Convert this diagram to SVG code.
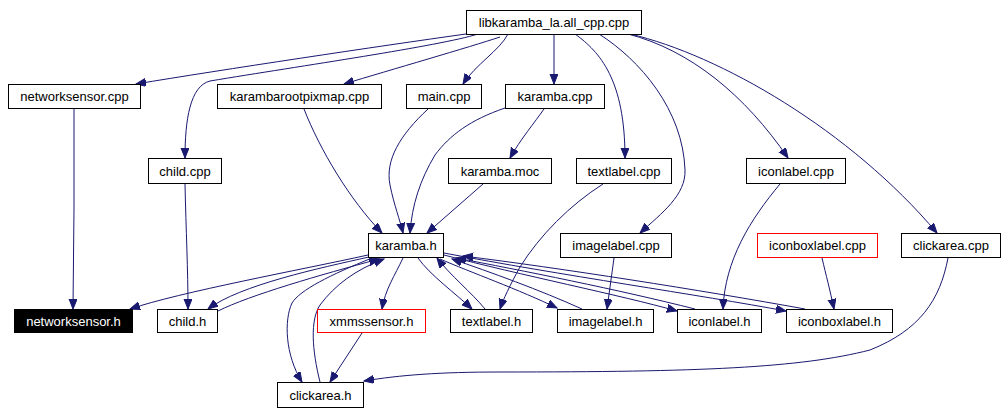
<svg xmlns="http://www.w3.org/2000/svg" width="1007" height="415" viewBox="0 0 1007 415">
<style>
.n rect{fill:#fff;stroke:#000;stroke-width:1}
.n.red rect{stroke:#f00}
.n.blk rect{fill:#000}
.n text{font-family:"Liberation Sans",Arial,sans-serif;font-size:13px;text-anchor:middle;fill:#000}
.n.blk text{fill:#fff}
#edges path{fill:none;stroke:#191970;stroke-width:1;marker-end:url(#ah)}
</style>
<defs>
<marker id="ah" markerUnits="userSpaceOnUse" markerWidth="11" markerHeight="9" refX="10" refY="4" orient="auto">
<path d="M0,0 L10,4 L0,8 z" fill="#191970" stroke="#191970" stroke-width="1"/>
</marker>
</defs>
<rect width="1007" height="415" fill="#fff"/>
<g id="edges">
<path d="M466,34 C380,46 220,70 136,84"/>
<path d="M478,34 C440,46 300,66 210,81 C190,86 185,120 185,158"/>
<path d="M500,37 C470,47 390,70 344,84"/>
<path d="M508,34 C500,50 475,65 463,84"/>
<path d="M554,34 L554,84"/>
<path d="M575,34 C600,52 625,80 625,158"/>
<path d="M599,34 C640,60 683,110 685,170 C686,195 662,213 640,233"/>
<path d="M628,34 C690,50 745,95 788,158"/>
<path d="M630,34 C720,55 850,130 937,233"/>
<path d="M74,109 L74,208 L73,309"/>
<path d="M185,184 C186,230 188,270 188,309"/>
<path d="M304,109 C320,150 350,200 382,233"/>
<path d="M428,109 C400,135 385,160 390,185 C394,205 400,220 403,233"/>
<path d="M505,108 C470,120 450,135 435,155 C420,180 412,205 410,233"/>
<path d="M544,109 C535,122 520,140 510,158"/>
<path d="M483,184 L427,233"/>
<path d="M603,184 C570,205 540,235 520,267 C510,285 503,300 500,309"/>
<path d="M614,258 L607,309"/>
<path d="M780,184 C750,220 725,260 723,309"/>
<path d="M822,258 C826,275 830,290 834,309"/>
<path d="M948,258 C940,300 920,330 870,350 C800,368 700,372 500,372 C440,372 400,375 364,381"/>
<path d="M362,333 L330,382"/>
<path d="M403,258 C395,275 385,290 382,309"/>
<path d="M418,258 C430,275 455,293 472,309"/>
<path d="M485,309 C472,293 450,275 437,258"/>
<path d="M440,259 C470,272 520,290 557,308"/>
<path d="M582,309 C540,290 490,272 452,259"/>
<path d="M444,255 C520,275 620,295 677,311"/>
<path d="M695,309 C620,290 520,270 456,258"/>
<path d="M444,253 C560,275 700,295 786,311"/>
<path d="M805,309 C700,290 560,268 463,256"/>
<path d="M368,255 C300,270 180,292 130,309"/>
<path d="M369,257 C320,268 240,285 208,309"/>
<path d="M218,311 C250,295 320,275 379,259"/>
<path d="M372,258 C330,275 300,290 292,303 C284,320 285,355 302,382"/>
<path d="M320,382 C312,350 310,320 320,305 C335,285 355,270 384,259"/>
</g>
<g id="n_lib" class="n"><rect x="466.5" y="10.5" width="175" height="24"/><text x="554" y="27">libkaramba_la.all_cpp.cpp</text></g>
<g id="n_networksensor_cpp" class="n"><rect x="8.5" y="84.5" width="132" height="24"/><text x="74.5" y="101">networksensor.cpp</text></g>
<g id="n_karambarootpixmap_cpp" class="n"><rect x="217.5" y="84.5" width="164" height="24"/><text x="299.5" y="101">karambarootpixmap.cpp</text></g>
<g id="n_main_cpp" class="n"><rect x="406.5" y="84.5" width="75" height="24"/><text x="444" y="101">main.cpp</text></g>
<g id="n_karamba_cpp" class="n"><rect x="505.5" y="84.5" width="99" height="24"/><text x="555" y="101">karamba.cpp</text></g>
<g id="n_child_cpp" class="n"><rect x="148.5" y="158.5" width="73" height="25"/><text x="185" y="176">child.cpp</text></g>
<g id="n_karamba_moc" class="n"><rect x="448.5" y="158.5" width="103" height="25"/><text x="500" y="176">karamba.moc</text></g>
<g id="n_textlabel_cpp" class="n"><rect x="576.5" y="158.5" width="95" height="25"/><text x="624" y="176">textlabel.cpp</text></g>
<g id="n_iconlabel_cpp" class="n"><rect x="746.5" y="158.5" width="99" height="25"/><text x="796" y="176">iconlabel.cpp</text></g>
<g id="n_karamba_h" class="n"><rect x="368.5" y="233.5" width="75" height="24"/><text x="406" y="250">karamba.h</text></g>
<g id="n_imagelabel_cpp" class="n"><rect x="560.5" y="233.5" width="111" height="24"/><text x="616" y="250">imagelabel.cpp</text></g>
<g id="n_iconboxlabel_cpp" class="n red"><rect x="757.5" y="233.5" width="120" height="24"/><text x="817.5" y="250">iconboxlabel.cpp</text></g>
<g id="n_clickarea_cpp" class="n"><rect x="901.5" y="233.5" width="99" height="24"/><text x="951" y="250">clickarea.cpp</text></g>
<g id="n_networksensor_h" class="n blk"><rect x="14.5" y="309.5" width="118" height="23"/><text x="73.5" y="326">networksensor.h</text></g>
<g id="n_child_h" class="n"><rect x="157.5" y="309.5" width="60" height="23"/><text x="187.5" y="326">child.h</text></g>
<g id="n_xmmssensor_h" class="n red"><rect x="317.5" y="309.5" width="108" height="23"/><text x="371.5" y="326">xmmssensor.h</text></g>
<g id="n_textlabel_h" class="n"><rect x="450.5" y="309.5" width="82" height="23"/><text x="491.5" y="326">textlabel.h</text></g>
<g id="n_imagelabel_h" class="n"><rect x="557.5" y="309.5" width="96" height="23"/><text x="605.5" y="326">imagelabel.h</text></g>
<g id="n_iconlabel_h" class="n"><rect x="677.5" y="309.5" width="84" height="23"/><text x="719.5" y="326">iconlabel.h</text></g>
<g id="n_iconboxlabel_h" class="n"><rect x="786.5" y="309.5" width="106" height="23"/><text x="839.5" y="326">iconboxlabel.h</text></g>
<g id="n_clickarea_h" class="n"><rect x="277.5" y="382.5" width="86" height="25"/><text x="320.5" y="400">clickarea.h</text></g>
</svg>
